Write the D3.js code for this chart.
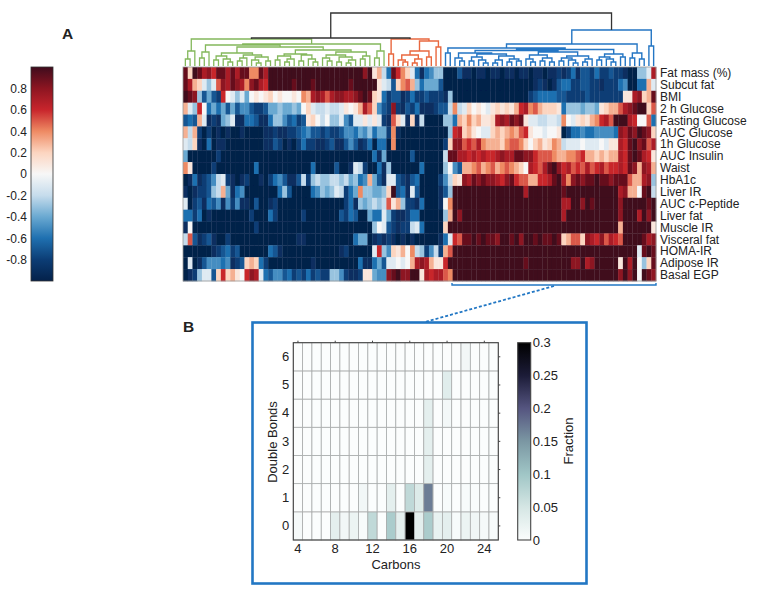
<!DOCTYPE html>
<html><head><meta charset="utf-8">
<script src="https://cdn.jsdelivr.net/npm/d3@7"></script>
<style>html,body{margin:0;padding:0;background:#fff}text{font-family:"Liberation Sans",Arial,sans-serif;fill:#222}</style>
</head><body><svg id="c" width="761" height="593"></svg>
<script>
const rowLabels=["Fat mass (%)","Subcut fat","BMI","2 h Glucose","Fasting Glucose","AUC Glucose","1h Glucose","AUC Insulin","Waist","HbA1c","Liver IR","AUC c-Peptide","Liver fat","Muscle IR","Visceral fat","HOMA-IR","Adipose IR","Basal EGP"];
// correlation x10, 100 columns per row
const fatMass=[9,2,10,9,7,8,6,9,9,7, 9,7,9,9,4,4,9,7,10,10, 10,10,10,10,10,10,10,10,10,10, 10,10,10,10,10,10,10,10,8,10, 1,3,-2,-6,9,6,4,2,-1,-6,
 -9,-6,-5,-3,-3,-10,-10,-10,-7,-9, -9,-10,-9,-9,-10,-9,-9,-10,-9,-9, -10,-9,-9,-10,-9,-9,-10,-9,-9,-8, -9,-8,-6,-9,-7,-7,-8,-6,-8,-8, -7,-8,-8,-9,-10,-10,-3,-3,-1,7];
const subcutFat=[9,7,3,2,-1,-3,-1,5,8,7, 9,8,7,4,8,9,7,6,10,10, 10,10,10,9,10,10,10,9,10,10, 10,10,10,10,10,9,10,10,10,10, 10,1,-1,-2,-7,2,4,5,3,-3,
 -6,-4,-4,-4,-7,-10,-10,-10,-10,-10, -10,-10,-10,-10,-10,-10,-10,-10,-10,-10, -10,-10,-10,-10,-9,-8,-9,-10,-9,-7, -6,-6,-8,-8,-7,-7,-8,-8,-9,-8, -8,-8,-6,-5,-10,-10,-6,-6,3,-1];
const bmi=[10,9,8,-3,-7,-4,-7,-8,6,0, -1,-3,-1,-4,0,1,0,1,2,0, 1,0,0,1,0,4,3,7,8,7, 5,7,8,8,7,7,8,9,10,9, 2,1,-6,-8,-7,-7,-9,-8,-6,-8,
 -8,-7,-8,-8,-8,-9,-3,-10,-10,-10, -10,-10,-10,-10,-10,-10,-10,-10,-10,-10, -10,-10,-10,-8,-7,-6,-6,-6,-6,-7, -7,-8,-8,-8,-8,-7,-8,-8,-8,-8, -8,-8,-8,1,1,7,8,2,3,9];
const glucose2h=[3,-1,-3,6,0,-6,-4,-6,-4,-7, -4,-7,-5,-5,-7,-8,-8,-7,-4,-4, -3,-4,-4,-3,-4,0,2,-1,-2,-2, -1,-2,-2,-1,1,0,1,3,7,5, 2,-5,-7,-8,8,-8,-9,-7,-8,-6,
 -9,-9,-9,-8,-7,-7,-2,4,-2,-1, 2,0,1,0,-1,1,2,1,2,1, 3,6,7,4,5,3,2,2,2,1, -6,-3,-3,-3,-4,-3,-3,-4,1,2, 3,3,5,7,8,9,10,10,2,5];
const fastingGlucose=[-7,-6,-7,3,-1,-9,-8,-9,-4,-3, -1,-9,-9,-6,-6,-7,-9,-9,-6,-3, -3,-5,-7,-6,-8,-7,1,2,0,-2, 0,-3,-3,-1,-5,-7,-1,-1,1,-1, 1,-1,-8,-9,5,2,-1,-9,2,-9,
 -2,-10,-10,-10,-10,-3,-3,-6,3,2, 4,2,3,1,1,2,7,8,7,9, 8,9,1,-1,-1,-2,-2,-1,-1,-2, 4,0,-1,1,2,1,3,4,6,7, 5,10,10,10,7,6,0,0,5,-6];
const aucGlucose=[3,-2,3,-8,-10,-8,-10,-9,-10,-9, -10,-10,-9,-10,-10,-10,-10,-9,-9,-8, -9,-9,-8,-8,-7,-6,-5,-7,-7,-8, -7,-8,-8,-7,-5,-5,-6,-4,-5,-3, -6,-4,-4,-8,4,-9,-10,-10,-10,-10,
 -10,-10,-10,-10,-10,-10,-3,6,7,2, 3,1,0,-1,-1,2,3,2,3,4, 3,5,6,1,0,0,-1,0,0,1, -10,-8,-6,-6,-5,-6,-6,-5,-5,-5, -5,-6,8,7,9,8,10,9,8,2];
const glucose1h=[-1,-2,2,-9,-10,-6,-10,-9,-9,-10, -10,-10,-10,-10,-10,-10,-10,-9,-9,-7, -8,-10,-9,-10,-8,-6,-8,-8,-9,-9, -8,-7,-9,-9,-7,-5,-7,-9,-8,-6, -10,-6,-6,-10,4,-10,-10,-10,-10,-10,
 -10,-10,-10,-10,-10,-8,2,8,8,5, 6,5,7,4,3,3,3,2,4,5, 5,4,2,0,2,3,1,2,4,3, -2,-1,-1,-1,0,-1,-1,-1,0,-1, 1,1,7,6,9,10,8,9,5,7];
const aucInsulin=[-4,-10,-10,-10,-10,-10,-10,-8,-10,-10, -10,-10,-10,-10,-10,-10,-10,-10,-10,-10, -10,-10,-10,-10,-10,-10,-10,-10,-10,-10, -10,-10,-10,-10,-10,-10,-10,-10,-10,-10, -6,-9,-4,-10,-10,-10,-10,-10,-7,-10,
 -10,-10,-10,-10,-10,-2,9,9,7,7, 6,7,6,7,6,6,7,8,7,7, 9,9,8,8,6,5,5,5,4,3, 3,4,4,5,6,3,3,2,3,2, 3,3,7,6,9,10,9,7,6,1];
const waist=[4,1,-10,-10,-10,-10,-8,-10,-10,-10, -10,-10,-10,-10,-10,-6,-10,-10,-10,-10, -10,-10,-10,-10,-10,-10,-10,-6,-10,-10, -10,-10,-7,-10,-10,-9,-1,-2,-8,-10, -10,-6,-9,-3,-10,-10,-10,-10,-10,-10,
 -6,-10,-10,-10,-10,-3,0,-5,-7,3, 3,4,5,3,4,5,3,4,5,4, 3,2,0,7,6,5,7,9,10,8, 6,7,5,6,5,7,5,6,7,5, 6,6,7,6,9,8,3,8,7,3];
const hba1c=[-10,-9,-6,-9,-8,-7,-5,-2,-1,-8, -9,-10,-9,-8,-10,-10,-9,-10,-8,-6, -5,-7,-9,-9,-7,-2,-8,-3,-2,-3, -3,-2,-2,-3,-2,-4,-3,-6,-5,3, -4,-7,-9,-1,-1,-7,-8,-9,-7,-6,
 -10,-10,-10,-10,-8,-5,-2,2,1,8, 7,9,8,9,8,8,7,6,8,9, 6,5,5,3,3,6,6,7,9,10, 7,4,8,9,8,9,9,10,9,9, 8,9,9,9,5,3,3,7,8,-3];
const liverIR=[-9,-10,-9,-8,-8,-7,-3,-2,3,-4, -9,-6,-5,-10,-10,-10,-10,-10,-10,-10, -6,-3,-7,-10,-10,-10,-10,-6,-5,-3, -4,-3,-1,-2,-8,-6,-4,4,-3,-3, -4,-4,-3,2,10,-7,-6,-9,-1,-7,
 -10,-10,-10,-10,-9,-7,-3,10,10,10, 10,10,10,10,10,10,10,10,10,10, 10,10,7,10,10,10,10,10,10,10, 9,10,10,10,10,10,10,10,10,10, 10,10,7,8,3,3,0,9,10,-2];
const aucCPeptide=[-1,-10,-8,-7,-9,-6,-7,-5,-9,-5, -8,-5,-9,-9,-10,-7,-10,-10,-9,-8, -10,-10,-10,-10,-10,-10,-10,-10,-10,-10, -10,-10,-10,-10,-8,-6,-9,-3,-4,-3, -2,-3,-2,5,1,3,-3,-8,-8,-9,
 -6,-10,-10,-10,-9,0,4,10,10,10, 10,10,10,10,10,10,10,10,10,10, 10,10,10,10,10,10,10,10,10,10, 7,7,10,10,8,10,9,10,10,10, 10,10,8,10,10,10,10,10,9,10];
const liverFat=[-6,-6,-8,-6,-10,-9,-10,-10,-10,-10, -10,-10,-10,-10,-8,-10,-10,-10,-6,-8, -10,-10,-10,-10,-10,-8,-10,-10,-10,-10, -10,-10,-10,-7,-8,-6,-7,-10,-10,-4, -6,-6,-1,-4,-8,-9,-9,-8,-6,-6,
 -10,-10,-10,-10,-10,-3,3,10,8,10, 10,10,10,10,10,10,10,10,10,10, 10,10,10,10,10,10,10,10,10,10, 7,10,10,10,10,10,10,10,10,10, 10,10,8,10,10,10,7,10,8,10];
const muscleIR=[-9,0,-10,-10,-10,-10,-10,-10,-10,-10, -10,-10,-10,-10,-10,-8,-10,-10,-10,-10, -10,-10,-10,-10,-10,-10,-10,-10,-10,-10, -10,-10,-10,-10,-10,-10,-10,-10,-10,-10, -3,0,-1,-7,-8,-9,-8,-8,-2,-1,
 -6,-10,-10,-10,-10,2,10,10,10,10, 10,10,10,10,10,10,10,10,10,10, 10,10,10,10,10,10,10,10,10,10, 10,10,10,10,10,10,10,10,10,10, 10,10,3,10,10,10,10,10,10,1];
const visceralFat=[-2,5,-7,-9,-8,-7,-9,-10,-10,-8, -10,-10,-10,-10,-10,-10,-10,-10,-10,-10, -10,-10,-10,-10,-9,-9,-10,-10,-10,-10, -10,-10,-10,-10,-10,-10,-6,-4,-4,-10, -9,-8,-9,-8,-9,-10,-9,-10,-9,-10,
 -10,-10,-10,-10,-9,-6,-1,6,5,9, 9,10,9,10,9,9,8,10,10,9, 10,8,10,10,9,10,9,9,10,9, 2,3,5,5,2,8,7,6,8,5, 7,6,5,10,10,10,10,9,7,8];
const homaIR=[-10,-10,-10,-10,-10,-10,-9,-8,-7,-6, -8,-7,-10,-10,-10,-10,-10,-10,-6,-7, -9,-10,-10,-10,-10,-10,-10,-10,-10,-10, -10,-10,-10,-9,-8,-10,-10,-10,-10,-10, -1,6,-3,-5,2,1,3,0,4,-2,
 -3,-8,-5,-2,-8,3,5,10,10,10, 10,10,10,10,10,10,10,10,10,10, 10,10,10,10,10,10,10,10,10,10, 10,10,10,10,10,10,10,10,10,10, 10,10,10,10,10,10,-1,9,10,9];
const adiposeIR=[-10,-1,-10,-9,-7,-5,-5,-5,-6,-5, -9,-8,-7,2,3,2,-6,-8,-10,-10, -10,-10,-10,-10,-10,-10,-10,-9,-10,-10, -10,-10,-10,-10,-10,-10,-10,-6,-9,-9, -6,-4,-7,-1,-1,0,-1,0,3,7,
 8,7,3,1,1,6,10,10,10,10, 10,10,10,10,10,10,10,10,10,10, 10,10,9,10,10,10,10,10,10,10, 10,10,8,8,10,7,8,10,10,10, 10,10,1,10,7,10,0,-3,2,9];
const basalEGP=[-10,-9,-8,-3,-1,-1,-7,2,6,2, 3,1,0,6,8,7,-1,-6,-7,-5, -5,-7,-6,-8,-7,-8,-6,-8,-7,-8, -8,-3,-3,-5,-8,-9,-9,-8,1,1, -4,-5,-5,8,9,10,8,8,10,10,
 1,7,6,7,7,5,4,10,10,10, 10,10,10,10,10,10,10,10,10,10, 10,10,10,10,10,10,10,10,10,10, 10,10,10,10,10,10,10,10,10,10, 10,10,8,10,8,10,0,10,9,8];
const heatRows=[fatMass,subcutFat,bmi,glucose2h,fastingGlucose,aucGlucose,glucose1h,aucInsulin,waist,hba1c,liverIR,aucCPeptide,liverFat,muscleIR,visceralFat,homaIR,adiposeIR,basalEGP];
const colorStops=[-1,-.8,-.6,-.4,-.2,0,.2,.4,.6,.8,1];
const colorValues=["#04214a","#0c3d75","#1f70b0","#6aa9d1","#c6dcec","#f7f7f7","#fcd5c0","#ee8a63","#c8252c","#8d1521","#3f0c1d"];
const colorTicks=[-.8,-.6,-.4,-.2,0,.2,.4,.6,.8];
// dendrograms: [height, child, child]; 0 is a leaf
const greenTree=[27,[15,[7,0,0],0],[22,[21,[14,[8,0,0],0],[19,
 [13,[10,[6,0,0],[7,0,[4,0,0]]],[11,[8,[5,0,0],0],[9,[6,0,[3,0,0]],[5,0,0]]]],
 [16,[12,[10,[6,0,0],[7,[4,0,0],0]],[11,[5,0,0],[7,0,[4,0,0]]]],[14,[11,[8,0,[5,0,0]],[9,[4,0,0],[6,[3,0,0],0]]],[10,[7,0,0],0]]]]],
 [15,[8,0,0],0]]];
const orangeTree=[27,[12,0,0],[25,[15,[11,[6,0,[4,0,0]],[7,[3,0,0],0]],[9,0,0]],[19,0,0]]];
const blueTree=[36,[22,[18,[13,0,0],[16.5,[15.5,
 [13,[8,0,[5,0,0]],[12,[9,[5,0,0],[6,0,[3,0,0]]],[10,[6,[3,0,0],0],[7,[4,0,0],[5,0,0]]]]],
 [14,[11,[7,0,[4,0,0]],[8,[5,0,0],[4,0,0]]],[10,[8,[5,0,0],[6,0,[3,0,0]]],[7,[4,0,0],0]]]],
 [12,[9,[6,0,0],[7,0,[4,0,0]]],[9,0,0]]]],[13,[8,0,0],[7,0,0]]],[20,0,0]];
const topRootHeights=[53,28];
const leftTree=[117,[53,[23,0,0],0],[63,[55,[44,0,0],[45,[36,[13,0,0],[27,0,0]],[33,[25,0,0],[27,[21,[19,0,[14,0,0]],0],0]]]],[39,0,0]]];
// panel B
const carbons=[4,5,6,7,8,9,10,11,12,13,14,15,16,17,18,19,20,21,22,23,24,25];
const bonds=[0,1,2,3,4,5,6];
const frac0=[.008,0,0,0,.03,.012,.02,.005,.07,0,.09,.03,.3,.03,.09,.025,.03,.005,.02,.015,.008,.005];
const frac1=[0,0,0,0,0,0,0,.012,0,0,.03,0,.07,.04,.17,0,.005,0,.005,.003,0,0];
const frac2=[0,0,0,0,0,0,0,0,0,0,0,0,0,0,.03,0,0,0,0,0,0,0];
const frac3=[0,0,0,0,0,0,0,0,0,0,0,0,0,0,.03,0,0,0,0,0,0,0];
const frac4=[0,0,0,0,0,0,0,0,0,0,0,0,0,0,.03,0,.01,0,0,0,0,0];
const frac5=[0,0,0,0,0,0,0,0,0,0,0,0,0,0,0,0,.035,0,0,0,0,0];
const frac6=[0,0,0,0,0,0,0,0,0,0,0,0,0,0,0,0,0,0,.012,0,0,0];
const fracRows=[frac0,frac1,frac2,frac3,frac4,frac5,frac6];
const carbonTicks=[4,8,12,16,20,24];
const fracStops=[0,.05,.1,.15,.2,.25,.3];
const fracColors=["#fbfdfd","#d5e6e4","#a0c6c6","#7b97a3","#555580","#1c1c38","#000000"];
const fracTicks=[0,.05,.1,.15,.2,.25,.3];

const svg=d3.select("#c");
const defs=svg.append("defs");
defs.append("filter").attr("id","soft").attr("x","-2%").attr("y","-2%").attr("width","104%").attr("height","104%")
 .append("feGaussianBlur").attr("stdDeviation",0.65);
const color=d3.scaleLinear().domain(colorStops).range(colorValues);
const HM={x0:183,x1:656,y0:67,y1:281};
const yRow=d3.scaleBand().domain(d3.range(rowLabels.length)).range([HM.y0,HM.y1]);
const heat=svg.append("g").attr("filter","url(#soft)");
heatRows.forEach((row,r)=>{
 const x=d3.scaleLinear().domain([0,row.length]).range([HM.x0,HM.x1]);
 heat.append("g").selectAll("rect").data(row).join("rect")
  .attr("x",(d,i)=>x(i)).attr("y",yRow(r)).attr("width",(d,i)=>x(i+1)-x(i)+.3).attr("height",yRow.bandwidth()+.3)
  .attr("fill",d=>color(d/10));
});
svg.append("rect").attr("x",HM.x0).attr("y",HM.y0).attr("width",HM.x1-HM.x0).attr("height",HM.y1-HM.y0).attr("fill","none").attr("stroke","#999").attr("stroke-width",.8);
svg.append("g").selectAll("text").data(rowLabels).join("text")
 .attr("x",660).attr("y",(d,i)=>yRow(i)+yRow.bandwidth()/2+4.2).attr("font-size",12).text(d=>d);

// generic dendrogram layout
function layout(tree,startLeaf){
 const root=d3.hierarchy(tree,d=>typeof d==="number"?null:d.slice(1));
 let k=startLeaf;
 root.eachAfter(n=>{
  if(!n.children){n.pos=k++;n.h=0;}
  else{n.pos=(n.children[0].pos+n.children[1].pos)/2;n.h=n.data[0];}
 });
 return root;
}
// top dendrogram
const xLeaf=d3.scaleLinear().domain([0,100]).range([HM.x0,HM.x1]);
const yH=d3.scaleLinear().domain([0,53]).range([66,13]);
const gRoot=layout(greenTree,0),oRoot=layout(orangeTree,gRoot.leaves().length),bRoot=layout(blueTree,gRoot.leaves().length+oRoot.leaves().length);
const topG=svg.append("g").attr("fill","none");
const xMid=c=>xLeaf(c+.5);
function drawTop(root,col,w){
 const p=[];
 root.each(n=>{ if(n.children){
  const [a,b]=n.children;
  p.push(`M${xMid(a.pos)},${yH(a.h)}V${yH(n.h)}H${xMid(b.pos)}V${yH(b.h)}`);
 }});
 topG.append("path").attr("d",p.join("")).attr("stroke",col).attr("stroke-width",w);
}
drawTop(gRoot,"#84b85c",1.3);drawTop(oRoot,"#e9683f",1.4);drawTop(bRoot,"#2476c4",1.4);
const leftPos=(gRoot.pos+oRoot.pos)/2;
topG.append("path").attr("stroke","#333").attr("stroke-width",1.3)
 .attr("d",`M${xMid(gRoot.pos)},${yH(gRoot.h)}V${yH(topRootHeights[1])}H${xMid(oRoot.pos)}V${yH(oRoot.h)}M${xMid(leftPos)},${yH(topRootHeights[1])}V${yH(topRootHeights[0])}H${xMid(bRoot.pos)}V${yH(bRoot.h)}`);

// left dendrogram
const lRoot=layout(leftTree,0);
const xD=d3.scaleLinear().domain([0,117]).range([179,62.7]);
const yLeaf=p=>yRow(p)+yRow.bandwidth()/2;
{const p=[];lRoot.each(n=>{if(n.children){const[a,b]=n.children;p.push(`M${xD(a.h)},${yLeaf(a.pos)}H${xD(n.h)}V${yLeaf(b.pos)}H${xD(b.h)}`);}});
 svg.append("path").attr("d",p.join("")).attr("fill","none").attr("stroke","#3a3a3a").attr("stroke-width",1.3);}

// left colorbar
function vGrad(id,stops,col,dom){
 const g=defs.append("linearGradient").attr("id",id).attr("x1",0).attr("x2",0).attr("y1",1).attr("y2",0);
 stops.forEach(s=>g.append("stop").attr("offset",(s-dom[0])/(dom[1]-dom[0])).attr("stop-color",col(s)));
}
vGrad("cb1",colorStops,color,[-1,1]);
const yCb=d3.scaleLinear().domain([-1,1]).range([281,67]);
svg.append("rect").attr("x",31).attr("y",67).attr("width",22).attr("height",214).attr("fill","url(#cb1)").attr("stroke","#333").attr("stroke-width",.8);
const axCb=svg.append("g").attr("transform","translate(31,0)").call(d3.axisLeft(yCb).tickValues(colorTicks).tickSize(0).tickPadding(4).tickFormat(d=>d===0?"0":d3.format(".1f")(d).replace("−","-")));
axCb.select(".domain").remove();axCb.selectAll("text").attr("font-size",12).attr("font-family","Liberation Sans");

// labels A B
svg.append("text").attr("x",62).attr("y",39).attr("font-size",15.5).attr("font-weight","bold").text("A");
svg.append("text").attr("x",183).attr("y",332).attr("font-size",15.5).attr("font-weight","bold").text("B");

// bracket and callout
const blue="#2277c4";
svg.append("path").attr("fill","none").attr("stroke",blue).attr("stroke-width",1.4).attr("d","M452,283V285H656V283");
svg.append("path").attr("fill","none").attr("stroke",blue).attr("stroke-width",1.8).attr("stroke-dasharray","3,2").attr("d","M554,286L425,322");
svg.append("rect").attr("x",252.5).attr("y",322.5).attr("width",334).attr("height",261).attr("fill","#fff").attr("stroke",blue).attr("stroke-width",2.6);

// panel B
const PB={l:293.3,r:498.3,t:342.7,b:540};
const xC=d3.scaleBand().domain(carbons).range([PB.l,PB.r]);
const yB=d3.scaleBand().domain(bonds).range([PB.b,PB.t]);
const fc=d3.scaleLinear().domain(fracStops).range(fracColors);
const gB=svg.append("g");
fracRows.forEach((row,i)=>{
 gB.append("g").selectAll("rect").data(row).join("rect")
  .attr("x",(d,j)=>xC(carbons[j])).attr("y",yB(bonds[i])).attr("width",xC.bandwidth()).attr("height",yB.bandwidth())
  .attr("fill",d=>fc(d)).attr("stroke","#a9acac").attr("stroke-width",.8);
});
gB.append("rect").attr("x",PB.l).attr("y",PB.t).attr("width",PB.r-PB.l).attr("height",PB.b-PB.t).attr("fill","none").attr("stroke","#444").attr("stroke-width",1.1);
const styleAxis=a=>{a.select(".domain").remove();a.selectAll("line").attr("stroke","#444");a.selectAll("text").attr("font-size",13).attr("font-family","Liberation Sans");};
styleAxis(svg.append("g").attr("transform",`translate(0,${PB.b})`).call(d3.axisBottom(xC).tickValues(carbonTicks).tickSize(0).tickPadding(4)));
styleAxis(svg.append("g").attr("transform",`translate(0,${PB.t})`).call(d3.axisTop(xC).tickValues(carbonTicks).tickSize(2).tickFormat("")));
styleAxis(svg.append("g").attr("transform",`translate(${PB.l},0)`).call(d3.axisLeft(yB).tickSize(0).tickPadding(4)));
styleAxis(svg.append("g").attr("transform",`translate(${PB.r},0)`).call(d3.axisRight(yB).tickSize(2).tickFormat("")));
svg.append("text").attr("x",396).attr("y",568.5).attr("text-anchor","middle").attr("font-size",13).text("Carbons");
svg.append("text").attr("transform","translate(277,442) rotate(-90)").attr("text-anchor","middle").attr("font-size",13).text("Double Bonds");
svg.append("text").attr("transform","translate(573,441) rotate(-90)").attr("text-anchor","middle").attr("font-size",13).text("Fraction");
vGrad("cb2",fracStops,fc,[0,.3]);
const yF=d3.scaleLinear().domain([0,.3]).range([540,342.7]);
svg.append("rect").attr("x",517.7).attr("y",342.7).attr("width",13).attr("height",197.3).attr("fill","url(#cb2)").attr("stroke","#444").attr("stroke-width",1.1);
styleAxis(svg.append("g").attr("transform","translate(530.7,0)").call(d3.axisRight(yF).tickValues(fracTicks).tickSize(0).tickPadding(2).tickFormat(d=>String(+d.toFixed(2)))));
</script></body></html>
